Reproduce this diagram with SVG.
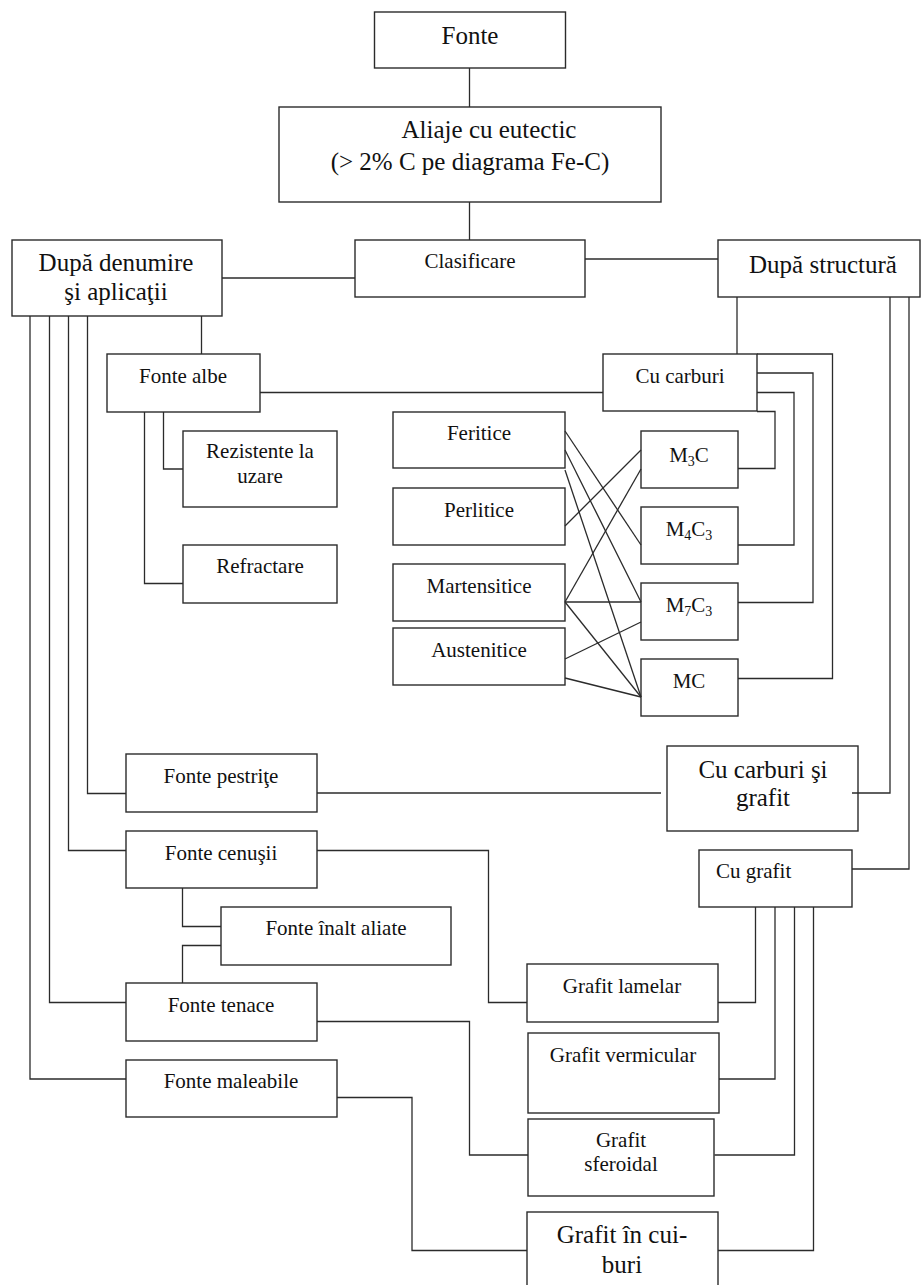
<svg xmlns="http://www.w3.org/2000/svg" width="921" height="1285" viewBox="0 0 921 1285">
<style>
rect{fill:#fff;stroke:#2b2b2b;stroke-width:1.4}
.c path{fill:none;stroke:#2b2b2b;stroke-width:1.3}
text{font-family:"Liberation Serif","Times New Roman",serif;fill:#111;text-anchor:middle}
.b{font-size:25px}
.s{font-size:21px}
.sub{font-size:14px}
</style>
<rect x="0" y="0" width="921" height="1285" style="fill:#fff;stroke:none"/>
<g id="fonte"><rect x="374.5" y="12" width="191" height="56"/><text class="b" x="470" y="44">Fonte</text></g>
<g id="aliaje"><rect x="279" y="107" width="382" height="95"/><text class="b" x="489" y="138">Aliaje cu eutectic</text><text class="b" x="470" y="170">(&gt; 2% C pe diagrama Fe-C)</text></g>
<g id="clasificare"><rect x="355" y="240" width="230" height="57"/><text class="s" x="470" y="268">Clasificare</text></g>
<g id="dupa-denumire"><rect x="12" y="240" width="210" height="76"/><text class="b" x="116" y="271">După denumire</text><text class="b" x="116" y="300">şi aplicaţii</text></g>
<g id="dupa-structura"><rect x="718" y="240" width="202" height="57"/><text class="b" x="823" y="273">După structură</text></g>
<g id="fonte-albe"><rect x="107" y="354" width="153" height="58"/><text class="s" x="183" y="383">Fonte albe</text></g>
<g id="cu-carburi"><rect x="603" y="354" width="154" height="57"/><text class="s" x="680" y="383">Cu carburi</text></g>
<g id="rezistente"><rect x="183" y="431" width="154" height="76"/><text class="s" x="260" y="458">Rezistente la</text><text class="s" x="260" y="483">uzare</text></g>
<g id="refractare"><rect x="183" y="545" width="154" height="58"/><text class="s" x="260" y="573">Refractare</text></g>
<g id="feritice"><rect x="393" y="412" width="172" height="56"/><text class="s" x="479" y="440">Feritice</text></g>
<g id="perlitice"><rect x="393" y="488" width="172" height="57"/><text class="s" x="479" y="517">Perlitice</text></g>
<g id="martensitice"><rect x="393" y="564" width="172" height="57"/><text class="s" x="479" y="593">Martensitice</text></g>
<g id="austenitice"><rect x="393" y="628" width="172" height="57"/><text class="s" x="479" y="657">Austenitice</text></g>
<g id="m3c"><rect x="641" y="431" width="97" height="57"/><text class="s" x="689" y="462">M<tspan class="sub" dy="4">3</tspan><tspan dy="-4">C</tspan></text></g>
<g id="m4c3"><rect x="641" y="507" width="97" height="57"/><text class="s" x="689" y="536">M<tspan class="sub" dy="4">4</tspan><tspan dy="-4">C</tspan><tspan class="sub" dy="4">3</tspan></text></g>
<g id="m7c3"><rect x="641" y="583" width="97" height="57"/><text class="s" x="689" y="612">M<tspan class="sub" dy="4">7</tspan><tspan dy="-4">C</tspan><tspan class="sub" dy="4">3</tspan></text></g>
<g id="mc"><rect x="641" y="659" width="97" height="57"/><text class="s" x="689" y="688">MC</text></g>
<g id="fonte-pestrite"><rect x="126" y="754" width="191" height="58"/><text class="s" x="221" y="783">Fonte pestriţe</text></g>
<g id="cu-carburi-grafit"><rect x="667" y="746" width="191" height="85"/><text class="b" x="763" y="778">Cu carburi şi</text><text class="b" x="763" y="806">grafit</text></g>
<g id="fonte-cenusii"><rect x="126" y="831" width="191" height="57"/><text class="s" x="221" y="860">Fonte cenuşii</text></g>
<g id="cu-grafit"><rect x="699" y="850" width="153" height="57"/><text class="s" x="716" y="878" style="text-anchor:start">Cu grafit</text></g>
<g id="fonte-inalt-aliate"><rect x="221" y="907" width="230" height="58"/><text class="s" x="336" y="935">Fonte înalt aliate</text></g>
<g id="grafit-lamelar"><rect x="527" y="964" width="191" height="58"/><text class="s" x="622" y="993">Grafit lamelar</text></g>
<g id="fonte-tenace"><rect x="126" y="983" width="191" height="58"/><text class="s" x="221" y="1012">Fonte tenace</text></g>
<g id="grafit-vermicular"><rect x="528" y="1033" width="191" height="80"/><text class="s" x="623" y="1062">Grafit vermicular</text></g>
<g id="fonte-maleabile"><rect x="126" y="1060" width="211" height="57"/><text class="s" x="231" y="1088">Fonte maleabile</text></g>
<g id="grafit-sferoidal"><rect x="528" y="1119" width="186" height="77"/><text class="s" x="621" y="1147">Grafit</text><text class="s" x="621" y="1171">sferoidal</text></g>
<g id="grafit-cuiburi"><rect x="527" y="1212" width="191" height="80"/><text class="b" x="622" y="1243">Grafit în cui-</text><text class="b" x="622" y="1273">buri</text></g>
<g class="c" id="connectors">
<path d="M469.5 68V107"/>
<path d="M469.5 202V240"/>
<path d="M222 278H355"/>
<path d="M585 259H718"/>
<path d="M201.5 316V354"/>
<path d="M30 316V1079H126"/>
<path d="M49.5 316V1002.5H126"/>
<path d="M68.5 316V850.5H126"/>
<path d="M87.5 316V793.5H126"/>
<path d="M737 297V354"/>
<path d="M890 297V793H852"/>
<path d="M909 297V869H852"/>
<path d="M260 392.5H603"/>
<path d="M163.5 412V469H183"/>
<path d="M144.5 412V583.5H183"/>
<path d="M757 354H832.5V678.5H738"/>
<path d="M757 373H813V602.5H738"/>
<path d="M757 392.5H794V545H738"/>
<path d="M757 411.5H775V468.5H738"/>
<path d="M565 431L641 545"/>
<path d="M565 450L641 602"/>
<path d="M565 470L641 697"/>
<path d="M565 526L641 450"/>
<path d="M565 602L641 469"/>
<path d="M565 602H641"/>
<path d="M565 602L641 697"/>
<path d="M565 659L641 622"/>
<path d="M565 678L641 697"/>
<path d="M317 793H661"/>
<path d="M317 850.5H488.5V1002.5H527"/>
<path d="M182.5 888V926.5H221"/>
<path d="M221 945.5H182.5V983"/>
<path d="M317 1021.5H469.5V1155H528"/>
<path d="M337 1097.5H412V1250.5H527"/>
<path d="M755.5 907V1002.5H718"/>
<path d="M775 907V1079H719"/>
<path d="M794.5 907V1155H714.5"/>
<path d="M813.5 907V1250.5H718"/>
</g>
</svg>
